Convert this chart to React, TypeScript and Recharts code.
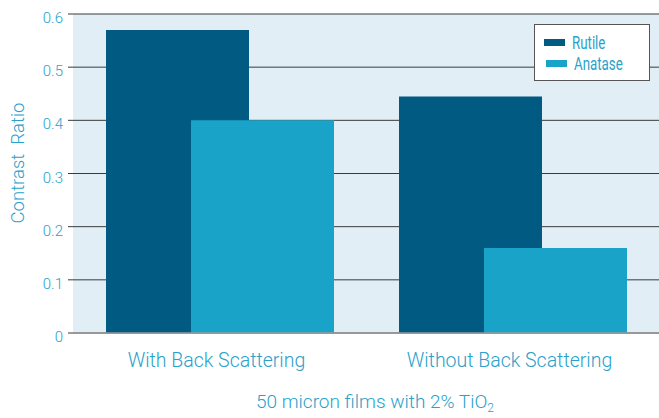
import { Bar, BarChart, CartesianGrid, Label, Legend, XAxis, YAxis } from 'recharts';

document.body.style.margin = '0';

const CATEGORIES = ['With Back Scattering', 'Without Back Scattering'];
const SERIES_NAMES = ['Rutile', 'Anatase'];
const RUTILE = [0.57, 0.445];
const ANATASE = [0.4, 0.16];
const Y_TICKS = [0, 0.1, 0.2, 0.3, 0.4, 0.5, 0.6];

const TEXT_COLOR = '#29a1ca';
const COLORS = {
  rutile: '#005a82',
  anatase: '#19a3c8',
} as const;

const chartData = CATEGORIES.map((category, i) => ({
  category,
  rutile: RUTILE[i],
  anatase: ANATASE[i],
}));

function YTick({ x, y, payload }: any) {
  return (
    <text x={x} y={y} dy={9} textAnchor="end" fill={TEXT_COLOR} fontSize={15} fontFamily="Roboto" fontWeight={300}>
      {payload.value}
    </text>
  );
}

function XTick({ x, y, payload }: any) {
  return (
    <text x={x - 3} y={y + 34} textAnchor="middle" fill={TEXT_COLOR} fontSize={19.5} fontFamily="Roboto" fontWeight={300}>
      {payload.value}
    </text>
  );
}

function AxisTitle({ viewBox }: any) {
  const cx = viewBox.x + viewBox.width / 2 + 9;
  return (
    <text x={cx} y={408} textAnchor="middle" fill={TEXT_COLOR} fontSize={19} fontFamily="Roboto" fontWeight={300}>
      50 micron films with 2% TiO
      <tspan fontSize={12} dy={4}>2</tspan>
    </text>
  );
}

function YTitle() {
  return (
    <text
      x={24}
      y={163}
      transform="rotate(-90 24 163)"
      textAnchor="middle"
      fill={TEXT_COLOR}
      fontSize={18.5}
      fontFamily="Roboto"
      fontWeight={300}
      style={{ whiteSpace: 'pre' }}
    >
      {'Contrast  Ratio'}
    </text>
  );
}

function LegendBox({ payload }: any) {
  const items = [...(payload ?? [])].sort(
    (a: any, b: any) => SERIES_NAMES.indexOf(a.value) - SERIES_NAMES.indexOf(b.value),
  );
  return (
    <div
      style={{
        width: 114,
        height: 55,
        background: '#fff',
        border: '1px solid #555',
        boxSizing: 'content-box',
      }}
    >
      {items.map((entry: any, i: number) => (
        <div
          key={entry.value}
          style={{ display: 'flex', alignItems: 'center', height: 21, marginTop: i === 0 ? 7 : 0, paddingLeft: 9 + i * 2 }}
        >
          <span style={{ display: 'inline-block', width: 21, height: 7, background: entry.color }} />
          <span
            style={{
              display: 'inline-block',
              marginLeft: 7,
              color: TEXT_COLOR,
              fontFamily: 'Roboto',
              fontSize: 19,
              lineHeight: '21px',
              transform: 'scaleX(0.7)',
              transformOrigin: 'left center',
            }}
          >
            {entry.value}
          </span>
        </div>
      ))}
    </div>
  );
}

export default function App() {
  return (
    <BarChart
      width={659}
      height={418}
      data={chartData}
      margin={{ top: 14, right: 0, bottom: 0, left: 0 }}
      barSize={143}
      barGap={-58}
    >
      <CartesianGrid fill="#e1eef5" stroke="#3a3a3a" vertical={false} />
      <XAxis
        dataKey="category"
        height={85}
        axisLine={{ stroke: '#999', strokeWidth: 1.5 }}
        tickLine={false}
        tickSize={0}
        tickMargin={0}
        tick={<XTick />}
      >
        <Label content={<AxisTitle />} />
      </XAxis>
      <YAxis
        width={73}
        domain={[0, 0.6]}
        ticks={Y_TICKS}
        axisLine={false}
        tickLine={{ stroke: '#3a3a3a' }}
        tickSize={5}
        tickMargin={5}
        tick={<YTick />}
      >
        <Label content={<YTitle />} />
      </YAxis>
      <Legend
        layout="vertical"
        align="center"
        verticalAlign="middle"
        content={<LegendBox />}
        wrapperStyle={{ left: 534, top: 24, width: 116, height: 57 }}
      />
      <Bar dataKey="rutile" name="Rutile" fill={COLORS.rutile} isAnimationActive={false} />
      <Bar dataKey="anatase" name="Anatase" fill={COLORS.anatase} isAnimationActive={false} />
    </BarChart>
  );
}
